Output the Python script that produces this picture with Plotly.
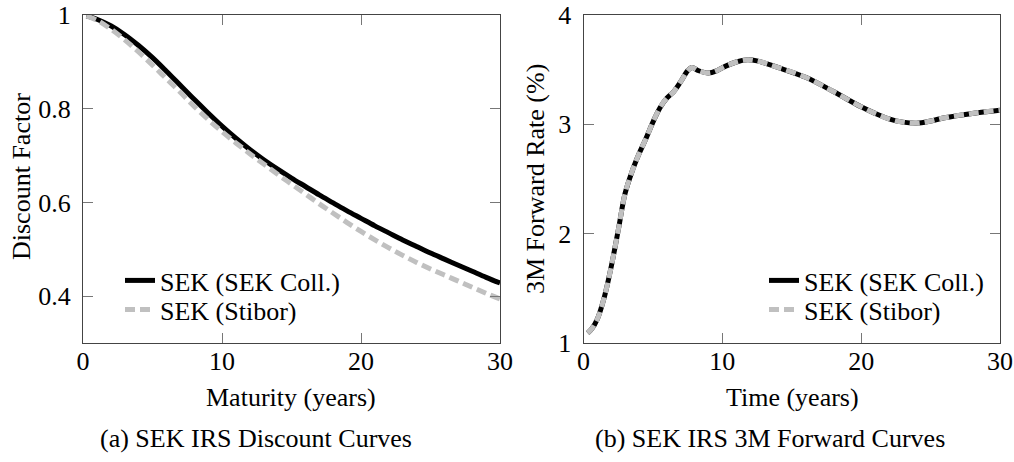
import plotly.graph_objects as go

# ---- Data ----
maturity = [0.25, 1, 2, 3, 4, 5, 6, 7, 8, 9, 10, 11, 12, 13, 14, 15, 16, 17, 18, 19, 20,
            21, 22, 23, 24, 25, 26, 27, 28, 29, 30]
df_sek_coll = [0.998, 0.991, 0.977, 0.958, 0.935, 0.909, 0.880, 0.850, 0.820, 0.791, 0.763,
               0.737, 0.713, 0.691, 0.671, 0.652, 0.634, 0.616, 0.599, 0.582, 0.566,
               0.550, 0.535, 0.520, 0.506, 0.492, 0.479, 0.466, 0.453, 0.440, 0.428]
df_stibor = [0.998, 0.989, 0.970, 0.947, 0.921, 0.893, 0.864, 0.835, 0.805, 0.777, 0.751,
             0.727, 0.704, 0.682, 0.660, 0.639, 0.618, 0.597, 0.577, 0.557, 0.538,
             0.520, 0.503, 0.487, 0.472, 0.458, 0.445, 0.432, 0.419, 0.406, 0.394]

time_fwd = [0.3, 0.6, 1.0, 1.5, 2.0, 2.5, 3.0, 3.5, 4.0, 4.5, 5.0, 5.5, 6.0, 6.5, 7.0, 7.5, 7.8,
            8.3, 9.0, 9.6, 10.2, 11.0, 11.8, 12.5, 14, 16, 18, 20, 21, 22, 23, 24, 25, 26, 28, 30]
fwd_sek_coll = [1.09, 1.13, 1.22, 1.42, 1.70, 2.03, 2.37, 2.57, 2.73, 2.87, 3.02, 3.15, 3.24, 3.30,
                3.39, 3.49, 3.52, 3.49, 3.47, 3.49, 3.53, 3.57, 3.59, 3.58, 3.52, 3.43, 3.30, 3.16,
                3.10, 3.05, 3.02, 3.01, 3.03, 3.06, 3.10, 3.13]
fwd_stibor = [1.09, 1.13, 1.22, 1.42, 1.70, 2.03, 2.37, 2.57, 2.73, 2.87, 3.02, 3.15, 3.24, 3.30,
              3.39, 3.49, 3.52, 3.49, 3.47, 3.49, 3.53, 3.57, 3.59, 3.58, 3.52, 3.43, 3.30, 3.16,
              3.10, 3.05, 3.02, 3.01, 3.03, 3.06, 3.10, 3.13]

x_ticks = [0, 10, 20, 30]
y1_ticks = [0.4, 0.6, 0.8, 1.0]
y1_ticktext = ["0.4", "0.6", "0.8", "1"]
y2_ticks = [1, 2, 3, 4]

name_coll = "SEK (SEK Coll.)"
name_stibor = "SEK (Stibor)"

# ---- Style ----
FONT = "'Liberation Serif', 'DejaVu Serif', serif"
FS = 26
W, H = 1014, 462
BLACK = "#000000"
GRAY = "#C0C0C0"
LW = 5
DASH = "10px,5px"

fig = go.Figure()
fig.add_trace(go.Scatter(x=maturity, y=df_sek_coll, name=name_coll, mode="lines",
                         line=dict(color=BLACK, width=LW, shape="spline"),
                         xaxis="x", yaxis="y", legend="legend"))
fig.add_trace(go.Scatter(x=maturity, y=df_stibor, name=name_stibor, mode="lines",
                         line=dict(color=GRAY, width=LW, dash=DASH, shape="spline"),
                         xaxis="x", yaxis="y", legend="legend2"))
fig.add_trace(go.Scatter(x=time_fwd, y=fwd_sek_coll, name=name_coll, mode="lines",
                         line=dict(color=BLACK, width=LW, shape="spline"),
                         xaxis="x2", yaxis="y2", legend="legend3"))
fig.add_trace(go.Scatter(x=time_fwd, y=fwd_stibor, name=name_stibor, mode="lines",
                         line=dict(color=GRAY, width=LW, dash=DASH, shape="spline"),
                         xaxis="x2", yaxis="y2", legend="legend4"))

axis_common = dict(showgrid=False, zeroline=False, showline=True, linecolor="#444444",
                   linewidth=1, ticks="inside", ticklen=10, tickcolor="#777777",
                   mirror="ticks", tickfont=dict(family=FONT, size=FS, color="black"),
                   automargin=False, ticklabeloverflow="allow")

def px_x(p):
    return p / W

def px_y(p):
    return 1 - p / H

def leg(xp, yp):
    return dict(x=px_x(xp), y=px_y(yp), xanchor="left", yanchor="top",
                bgcolor="rgba(0,0,0,0)", font=dict(family=FONT, size=FS))

ydom = [px_y(343), px_y(15)]
fig.update_layout(
    width=W, height=H,
    margin=dict(l=0, r=0, t=0, b=0),
    paper_bgcolor="white", plot_bgcolor="white",
    font=dict(family=FONT, size=FS, color="black"),
    xaxis=dict(domain=[px_x(83), px_x(500)], range=[0, 30], tickvals=x_ticks,
               anchor="y", ticklabelstandoff=-5, **axis_common),
    yaxis=dict(domain=ydom, range=[0.3, 1.0], tickvals=y1_ticks, ticktext=y1_ticktext,
               anchor="x", ticklabelstandoff=6, **axis_common),
    xaxis2=dict(domain=[px_x(583.5), px_x(1000)], range=[0, 30], tickvals=x_ticks,
                anchor="y2", ticklabelstandoff=-5, **axis_common),
    yaxis2=dict(domain=ydom, range=[1, 4], tickvals=y2_ticks,
                anchor="x2", ticklabelstandoff=6, **axis_common),
    legend=leg(120, 257),
    legend2=leg(120, 286),
    legend3=leg(764, 257),
    legend4=leg(764, 286),
    showlegend=True,
)

ann = [
    ("Discount Factor", 21, 177, -90),
    ("3M Forward Rate (%)", 535, 179, -90),
    ("Maturity (years)", 291, 397, 0),
    ("Time (years)", 792, 397, 0),
    ("(a) SEK IRS Discount Curves", 256, 438, 0),
    ("(b) SEK IRS 3M Forward Curves", 770, 438, 0),
]
for text, ax, ay, ang in ann:
    fig.add_annotation(text=text, x=px_x(ax), y=px_y(ay), xref="paper", yref="paper",
                       xanchor="center", yanchor="middle", textangle=ang, showarrow=False,
                       font=dict(family=FONT, size=FS, color="black"))

fig.write_html("out.html", config={"displayModeBar": False},
               post_script="document.body.style.margin='0';")
